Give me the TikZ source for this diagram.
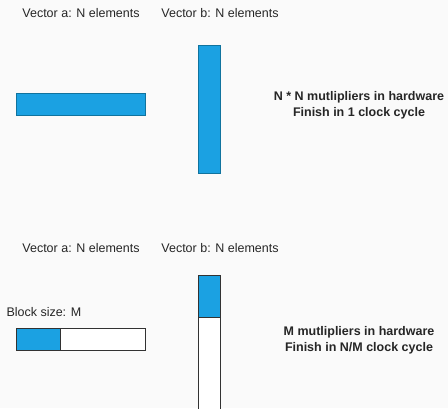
\documentclass[tikz,border=0pt]{standalone}
\usepackage{fontspec}
\setmainfont{Liberation Sans}
\definecolor{bg}{RGB}{250,250,250}
\definecolor{barblue}{HTML}{1BA1E2}
\definecolor{barline}{HTML}{10739E}
\definecolor{boxline}{RGB}{50,50,50}
\begin{document}
\begin{tikzpicture}[x=1pt,y=-1pt,
  lbl/.style={font=\fontsize{12.5}{15}\selectfont, inner sep=0pt, text=black!85},
  bold/.style={font=\fontsize{12.5}{15.6}\selectfont\bfseries, inner sep=0pt, align=center, text=black!85},
  fullbar/.style={fill=barblue, draw=barline, line width=0.8pt},
  emptybar/.style={fill=white, draw=boxline, line width=0.8pt},
  partbar/.style={fill=barblue, draw=boxline, line width=0.8pt}]
\fill[bg] (0,0) rectangle (448,408);
\useasboundingbox (0,0) rectangle (448,408);
\clip (0,0) rectangle (448,408);
% top section
\node[lbl] (ta) at (81,13) {Vector a: N elements};
\node[lbl] (tb) at (220,13) {Vector b: N elements};
\draw[fullbar] (16.5,93.5) rectangle (145.5,115);
\draw[fullbar] (198.5,45) rectangle (220,173.5);
\node[bold] (tt) at (359,105.2) {N * N mutlipliers in hardware\\Finish in 1 clock cycle};
% bottom section
\node[lbl] (ba) at (81,247.7) {Vector a: N elements};
\node[lbl] (bb) at (220,247.7) {Vector b: N elements};
\node[lbl, anchor=west] (bs) at (6.3,311.7) {Block size: M};
\draw[emptybar] (16.5,328.3) rectangle (145.5,350);
\draw[partbar] (16.5,328.3) rectangle (60,350);
\draw[emptybar] (198.5,275) rectangle (220,420);
\draw[partbar] (198.5,275) rectangle (220,317.7);
\node[bold] (bt) at (359,340) {M mutlipliers in hardware\\Finish in N/M clock cycle};
\end{tikzpicture}
\end{document}
